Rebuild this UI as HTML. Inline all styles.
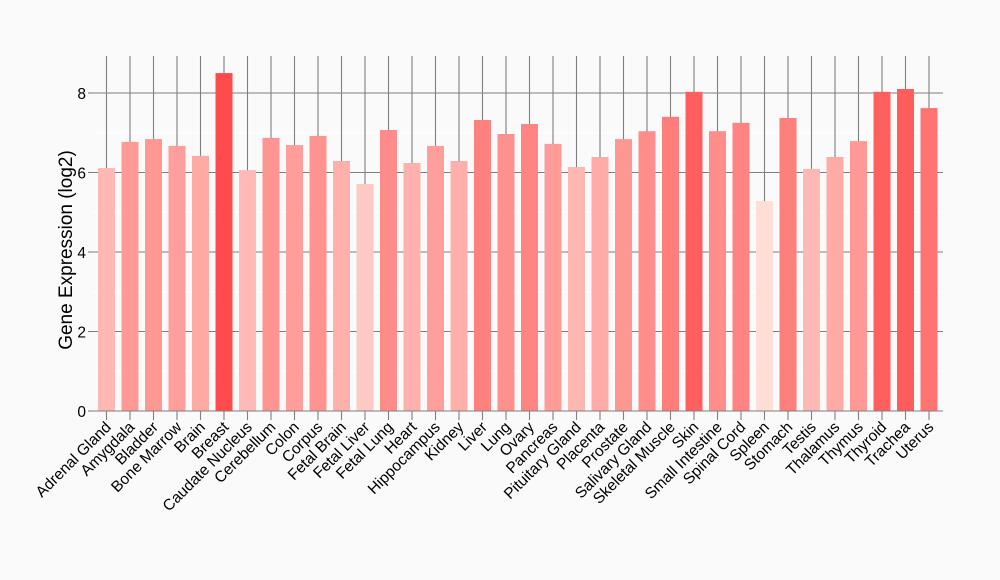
<!DOCTYPE html>
<html><head><meta charset="utf-8"><style>html,body{margin:0;padding:0;background:#fafafa}svg{display:block}text{font-family:"Liberation Sans",Arial,sans-serif;fill:#000}</style></head><body>
<svg width="1000" height="580" viewBox="0 0 1000 580">
<rect width="1000" height="580" fill="#fafafa"/>
<g stroke="#ffffff" stroke-width="1">
<line x1="92" x2="943" y1="371.25" y2="371.25"/><line x1="92" x2="943" y1="291.75" y2="291.75"/><line x1="92" x2="943" y1="212.25" y2="212.25"/><line x1="92" x2="943" y1="132.75" y2="132.75"/>
</g>
<g stroke="#7f7f7f" stroke-width="1.1">
<line x1="92" x2="943" y1="331.5" y2="331.5"/><line x1="92" x2="943" y1="252" y2="252"/><line x1="92" x2="943" y1="172.5" y2="172.5"/><line x1="92" x2="943" y1="93" y2="93"/>
<line x1="88" x2="92" y1="411" y2="411"/><line x1="88" x2="92" y1="331.5" y2="331.5"/><line x1="88" x2="92" y1="252" y2="252"/><line x1="88" x2="92" y1="172.5" y2="172.5"/><line x1="88" x2="92" y1="93" y2="93"/>
<path d="M106.5 56V420M130 56V420M153.5 56V420M177 56V420M200.5 56V420M224 56V420M247.5 56V420M271 56V420M294.5 56V420M318 56V420M341.5 56V420M365 56V420M388.5 56V420M412 56V420M435.5 56V420M459 56V420M482.5 56V420M506 56V420M529.5 56V420M553 56V420M576.5 56V420M600 56V420M623.5 56V420M647 56V420M670.5 56V420M694 56V420M717.5 56V420M741 56V420M764.5 56V420M788 56V420M811.5 56V420M835 56V420M858.5 56V420M882 56V420M905.5 56V420M929 56V420"/>
</g>
<g>
<rect x="98" y="168.1" width="17" height="242.9" fill="rgb(255,184,179)"/>
<rect x="121.5" y="141.9" width="17" height="269.1" fill="rgb(255,154,150)"/>
<rect x="145" y="139.1" width="17" height="271.9" fill="rgb(255,151,147)"/>
<rect x="168.5" y="145.9" width="17" height="265.1" fill="rgb(255,158,155)"/>
<rect x="192" y="155.8" width="17" height="255.2" fill="rgb(255,170,165)"/>
<rect x="215.5" y="73.1" width="17" height="337.9" fill="rgb(255,75,75)"/>
<rect x="239" y="170.1" width="17" height="240.9" fill="rgb(255,186,181)"/>
<rect x="262.5" y="137.9" width="17" height="273.1" fill="rgb(255,149,146)"/>
<rect x="286" y="145.1" width="17" height="265.9" fill="rgb(255,158,154)"/>
<rect x="309.5" y="135.9" width="17" height="275.1" fill="rgb(255,147,144)"/>
<rect x="333" y="161" width="17" height="250" fill="rgb(255,176,171)"/>
<rect x="356.5" y="184" width="17" height="227" fill="rgb(255,202,196)"/>
<rect x="380" y="130" width="17" height="281" fill="rgb(255,140,137)"/>
<rect x="403.5" y="163" width="17" height="248" fill="rgb(255,178,173)"/>
<rect x="427" y="145.9" width="17" height="265.1" fill="rgb(255,158,155)"/>
<rect x="450.5" y="161" width="17" height="250" fill="rgb(255,176,171)"/>
<rect x="474" y="120" width="17" height="291" fill="rgb(255,129,126)"/>
<rect x="497.5" y="134" width="17" height="277" fill="rgb(255,145,141)"/>
<rect x="521" y="124" width="17" height="287" fill="rgb(255,133,131)"/>
<rect x="544.5" y="143.9" width="17" height="267.1" fill="rgb(255,156,152)"/>
<rect x="568" y="167" width="17" height="244" fill="rgb(255,183,178)"/>
<rect x="591.5" y="157" width="17" height="254" fill="rgb(255,171,167)"/>
<rect x="615" y="139.1" width="17" height="271.9" fill="rgb(255,151,147)"/>
<rect x="638.5" y="131.2" width="17" height="279.8" fill="rgb(255,142,138)"/>
<rect x="662" y="116.8" width="17" height="294.2" fill="rgb(255,125,123)"/>
<rect x="685.5" y="91.8" width="17" height="319.2" fill="rgb(255,96,95)"/>
<rect x="709" y="131.2" width="17" height="279.8" fill="rgb(255,142,138)"/>
<rect x="732.5" y="122.8" width="17" height="288.2" fill="rgb(255,132,129)"/>
<rect x="756" y="201.1" width="17" height="209.9" fill="rgb(255,222,215)"/>
<rect x="779.5" y="118" width="17" height="293" fill="rgb(255,127,124)"/>
<rect x="803" y="168.9" width="17" height="242.1" fill="rgb(255,185,180)"/>
<rect x="826.5" y="157" width="17" height="254" fill="rgb(255,171,167)"/>
<rect x="850" y="141.1" width="17" height="269.9" fill="rgb(255,153,149)"/>
<rect x="873.5" y="91.8" width="17" height="319.2" fill="rgb(255,96,95)"/>
<rect x="897" y="89" width="17" height="322" fill="rgb(255,93,92)"/>
<rect x="920.5" y="108.1" width="17" height="302.9" fill="rgb(255,115,113)"/>
</g>
<line x1="92" x2="943" y1="411" y2="411" stroke="#7f7f7f" stroke-width="1.1"/>
<g font-size="15.5" text-anchor="end">
<text x="86" y="417">0</text><text x="86" y="337.5">2</text><text x="86" y="258">4</text><text x="86" y="178.5">6</text><text x="86" y="99">8</text>
</g>
<text transform="translate(72,250) rotate(-90)" font-size="19" text-anchor="middle">Gene Expression (log2)</text>
<g font-size="15.5" text-anchor="end">
<text transform="translate(112,428) rotate(-45)">Adrenal Gland</text>
<text transform="translate(135.5,428) rotate(-45)">Amygdala</text>
<text transform="translate(159,428) rotate(-45)">Bladder</text>
<text transform="translate(182.5,428) rotate(-45)">Bone Marrow</text>
<text transform="translate(206,428) rotate(-45)">Brain</text>
<text transform="translate(229.5,428) rotate(-45)">Breast</text>
<text transform="translate(253,428) rotate(-45)">Caudate Nucleus</text>
<text transform="translate(276.5,428) rotate(-45)">Cerebellum</text>
<text transform="translate(300,428) rotate(-45)">Colon</text>
<text transform="translate(323.5,428) rotate(-45)">Corpus</text>
<text transform="translate(347,428) rotate(-45)">Fetal Brain</text>
<text transform="translate(370.5,428) rotate(-45)">Fetal Liver</text>
<text transform="translate(394,428) rotate(-45)">Fetal Lung</text>
<text transform="translate(417.5,428) rotate(-45)">Heart</text>
<text transform="translate(441,428) rotate(-45)">Hippocampus</text>
<text transform="translate(464.5,428) rotate(-45)">Kidney</text>
<text transform="translate(488,428) rotate(-45)">Liver</text>
<text transform="translate(511.5,428) rotate(-45)">Lung</text>
<text transform="translate(535,428) rotate(-45)">Ovary</text>
<text transform="translate(558.5,428) rotate(-45)">Pancreas</text>
<text transform="translate(582,428) rotate(-45)">Pituitary Gland</text>
<text transform="translate(605.5,428) rotate(-45)">Placenta</text>
<text transform="translate(629,428) rotate(-45)">Prostate</text>
<text transform="translate(652.5,428) rotate(-45)">Salivary Gland</text>
<text transform="translate(676,428) rotate(-45)">Skeletal Muscle</text>
<text transform="translate(699.5,428) rotate(-45)">Skin</text>
<text transform="translate(723,428) rotate(-45)">Small Intestine</text>
<text transform="translate(746.5,428) rotate(-45)">Spinal Cord</text>
<text transform="translate(770,428) rotate(-45)">Spleen</text>
<text transform="translate(793.5,428) rotate(-45)">Stomach</text>
<text transform="translate(817,428) rotate(-45)">Testis</text>
<text transform="translate(840.5,428) rotate(-45)">Thalamus</text>
<text transform="translate(864,428) rotate(-45)">Thymus</text>
<text transform="translate(887.5,428) rotate(-45)">Thyroid</text>
<text transform="translate(911,428) rotate(-45)">Trachea</text>
<text transform="translate(934.5,428) rotate(-45)">Uterus</text>
</g>
</svg>
</body></html>
